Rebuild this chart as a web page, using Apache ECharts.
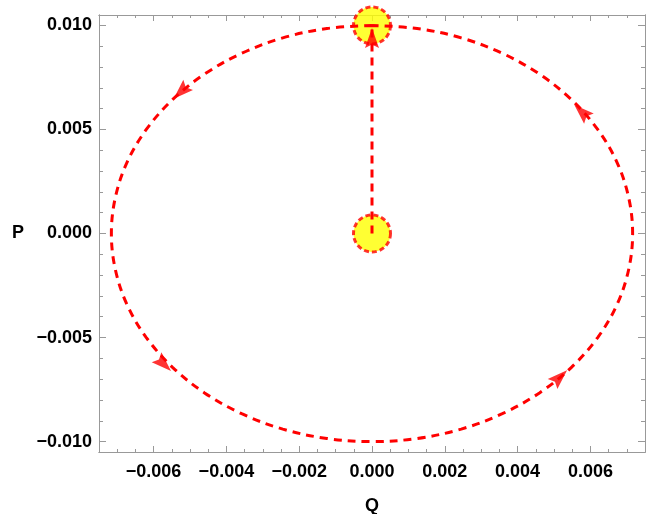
<!DOCTYPE html>
<html><head><meta charset="utf-8">
<script src="https://cdn.jsdelivr.net/npm/echarts@6/dist/echarts.min.js"></script>
<style>html,body{margin:0;padding:0;background:#fff}#c{width:649px;height:514px}</style>
</head><body><div id="c"></div><script>
// Orbit in the (Q, P) phase plane, traversed counter-clockwise from the top
const orbitQ = [0, -0.00124, -0.00245, -0.00358, -0.00460, -0.00548, -0.00620, -0.00673, -0.00705, -0.00716,
  -0.00705, -0.00673, -0.00620, -0.00548, -0.00460, -0.00358, -0.00245, -0.00124, 0,
  0.00124, 0.00245, 0.00358, 0.00460, 0.00548, 0.00620, 0.00673, 0.00705, 0.00716,
  0.00705, 0.00673, 0.00620, 0.00548, 0.00460, 0.00358, 0.00245, 0.00124, 0];
const orbitP = [0.0100, 0.00985, 0.00940, 0.00866, 0.00766, 0.00643, 0.00500, 0.00342, 0.00174, 0,
  -0.00174, -0.00342, -0.00500, -0.00643, -0.00766, -0.00866, -0.00940, -0.00985, -0.0100,
  -0.00985, -0.00940, -0.00866, -0.00766, -0.00643, -0.00500, -0.00342, -0.00174, 0,
  0.00174, 0.00342, 0.00500, 0.00643, 0.00766, 0.00866, 0.00940, 0.00985, 0.0100];
// Radial segment from origin to the top of the orbit
const radialQ = [0, 0];
const radialP = [0, 0.0100];
// Marked points (yellow disks)
const pointQ = [0, 0];
const pointP = [0, 0.0100];
// Arrowheads on the orbit
const arrowQ = [-0.00525, -0.00572, 0.00516, 0.00576];
const arrowP = [0.00681, -0.00628, -0.00690, 0.00585];
// Arrowhead on the radial segment
const upArrowQ = [0];
const upArrowP = [0.0094];
// Ticks
const xTicks = [-0.006, -0.004, -0.002, 0, 0.002, 0.004, 0.006];
const yTicks = [-0.010, -0.005, 0, 0.005, 0.010];
const xMinor = []; for (let i = -14; i <= 14; i++) xMinor.push(+(i * 0.0005).toFixed(5));
const yMinor = []; for (let i = -10; i <= 10; i++) yMinor.push(+(i * 0.001).toFixed(4));

const XMIN = -0.0075, XMAX = 0.0075, YMIN = -0.0105, YMAX = 0.0105;
const FRAME = '#999999';
const RED = '#ff0000';
const FONT = 'Liberation Sans, Arial, sans-serif';
const ARROW = 'path://M0,0L6,18L0,15L-6,18Z';

function fmt(v) {
  const s = Math.abs(v) < 1e-12 ? '0.000' : Math.abs(v).toFixed(3);
  return v < -1e-12 ? '\u2212' + s : s;
}
function mkAxis(kind, pos, vals, len, withLabel, extra) {
  const a = {
    type: 'value', position: pos,
    min: kind === 'x' ? XMIN : YMIN, max: kind === 'x' ? XMAX : YMAX,
    axisLine: { show: true, onZero: false, lineStyle: { color: FRAME, width: 1 } },
    axisTick: { show: true, inside: true, length: len, customValues: vals, lineStyle: { color: FRAME, width: 1 } },
    axisLabel: withLabel ? {
      show: true, customValues: vals, formatter: fmt, color: '#000', fontSize: 18, fontWeight: 'bold',
      fontFamily: FONT, margin: kind === 'x' ? 11 : 7
    } : { show: false },
    splitLine: { show: false }, minorTick: { show: false }, minorSplitLine: { show: false }
  };
  return Object.assign(a, extra || {});
}
const zip = (a, b) => a.map((v, i) => [v, b[i]]);

const chart = echarts.init(document.getElementById('c'), null, { renderer: 'canvas' });
const option = {
  animation: false,
  backgroundColor: '#fff',
  grid: { left: 99, right: 4, top: 15, bottom: 62, containLabel: false, outerBoundsMode: 'none' },
  xAxis: [
    mkAxis('x', 'bottom', xTicks, 6, true, {
      name: 'Q', nameLocation: 'middle', nameGap: 45,
      nameTextStyle: { color: '#000', fontSize: 18, fontWeight: 'bold', fontFamily: FONT }
    }),
    mkAxis('x', 'bottom', xMinor, 3, false),
    mkAxis('x', 'top', xTicks, 6, false),
    mkAxis('x', 'top', xMinor, 3, false)
  ],
  yAxis: [
    mkAxis('y', 'left', yTicks, 7, true, {
      name: 'P', nameLocation: 'middle', nameGap: 75, nameRotate: 0,
      nameTextStyle: { color: '#000', fontSize: 18, fontWeight: 'bold', fontFamily: FONT }
    }),
    mkAxis('y', 'left', yMinor, 4, false),
    mkAxis('y', 'right', yTicks, 7, false),
    mkAxis('y', 'right', yMinor, 4, false)
  ],
  series: [
    {
      type: 'scatter', name: 'points', data: zip(pointQ, pointP), symbol: 'circle', symbolSize: 37,
      itemStyle: { color: '#ffff00', borderColor: RED, borderWidth: 3, borderType: [5, 3] },
      z: 2, clip: false, silent: true
    },
    {
      type: 'line', name: 'orbit', data: zip(orbitQ, orbitP), showSymbol: false, smooth: 0.35,
      lineStyle: { color: RED, width: 3, type: [8, 6] }, z: 3, clip: false, silent: true
    },
    {
      type: 'line', name: 'radial', data: zip(radialQ, radialP), showSymbol: false,
      lineStyle: { color: RED, width: 3, type: [8, 6] }, z: 3, clip: false, silent: true
    },
    {
      type: 'scatter', name: 'arrows', data: zip(arrowQ, arrowP), symbol: ARROW, symbolSize: [14, 20],
      itemStyle: { color: RED }, z: 4, clip: false, silent: true
    },
    {
      type: 'scatter', name: 'uparrow', data: zip(upArrowQ, upArrowP), symbol: ARROW, symbolSize: [14, 20],
      itemStyle: { color: RED }, z: 4, clip: false, silent: true
    }
  ]
};
chart.setOption(option);

// orient each arrowhead along the orbit's direction of travel
const px = orbitQ.map((q, i) => chart.convertToPixel({ xAxisIndex: 0, yAxisIndex: 0 }, [q, orbitP[i]]));
const arrowData = arrowQ.map((q, i) => {
  const p = chart.convertToPixel({ xAxisIndex: 0, yAxisIndex: 0 }, [q, arrowP[i]]);
  let best = 1, bd = Infinity;
  for (let k = 1; k < px.length - 1; k++) {
    const d = (px[k][0] - p[0]) ** 2 + (px[k][1] - p[1]) ** 2;
    if (d < bd) { bd = d; best = k; }
  }
  const a = px[best - 1], b = px[best + 1];
  const ang = Math.atan2(-(b[1] - a[1]), b[0] - a[0]) * 180 / Math.PI;
  return { value: [q, arrowP[i]], symbolRotate: ang - 90 };
});
chart.setOption({ series: [{}, {}, {}, { data: arrowData }, {}] });
</script></body></html>
